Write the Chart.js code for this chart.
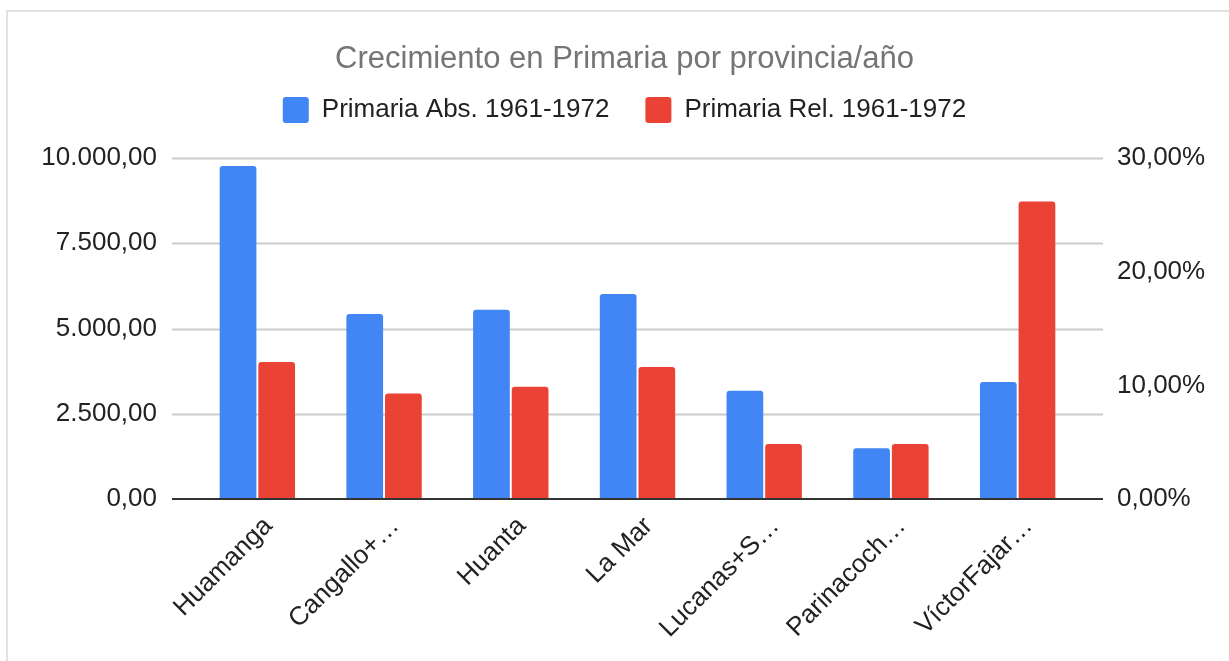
<!DOCTYPE html>
<html>
<head>
<meta charset="utf-8">
<script src="https://cdn.jsdelivr.net/npm/chart.js@4.4.1/dist/chart.umd.min.js"></script>
<style>
  html, body { margin: 0; padding: 0; background: #fff; }
  #frame {
    position: absolute; left: 6px; top: 10px; width: 1300px; height: 700px;
    border-left: 2px solid #e2e2e2; border-top: 2px solid #e2e2e2;
  }
  #wrap { position: absolute; left: 0; top: 0; width: 1229px; height: 661px; }
</style>
</head>
<body>
<div id="frame"></div>
<div id="wrap"><canvas id="chart"></canvas></div>
<script>
const provincias = ["Huamanga", "Cangallo+…", "Huanta", "La Mar", "Lucanas+S…", "Parinacoch…", "VíctorFajar…"];
const primariaAbs = [9765, 5430, 5550, 6010, 3175, 1490, 3430];
const primariaRel = [12.05, 9.29, 9.88, 11.62, 4.83, 4.83, 26.18];

const TEXT = "#222222";
const FONT = "'Liberation Sans', Arial, sans-serif";

function fmtNum(v) {
  var parts = v.toFixed(2).split(".");
  parts[0] = parts[0].replace(/\B(?=(\d{3})+(?!\d))/g, ".");
  return parts[0] + "," + parts[1];
}

function fmtPct(v) {
  return v.toFixed(2).replace(".", ",") + "%";
}

// gridlines in the google charts style, a bit wider than the bars area
const gridLines = {
  id: "gridLines",
  beforeDatasetsDraw(chart) {
    const ctx = chart.ctx;
    const y = chart.scales.y;
    const area = chart.chartArea;
    ctx.save();
    y.ticks.forEach(function(t) {
      if (t.value === 0) return;
      const py = Math.round(y.getPixelForValue(t.value)) + 0.5;
      ctx.strokeStyle = "#cccccc";
      ctx.lineWidth = 2;
      ctx.beginPath();
      ctx.moveTo(area.left - 22, py);
      ctx.lineTo(area.right + 22, py);
      ctx.stroke();
    });
    ctx.restore();
  },
  afterDatasetsDraw(chart) {
    const ctx = chart.ctx;
    const y = chart.scales.y;
    const area = chart.chartArea;
    const py = y.getPixelForValue(0);
    ctx.save();
    ctx.strokeStyle = "#333333";
    ctx.lineWidth = 2;
    ctx.beginPath();
    ctx.moveTo(area.left - 22, py);
    ctx.lineTo(area.right + 22, py);
    ctx.stroke();
    ctx.restore();
  }
};

// leave more room under the legend
const legendSpace = {
  id: "legendSpace",
  beforeInit(chart) {
    const fit = chart.legend.fit;
    chart.legend.fit = function() {
      fit.bind(chart.legend)();
      this.height = 97;
    };
  }
};

const el = document.getElementById("chart");
let myChart = new Chart(el, {
  type: "bar",
  data: {
    labels: provincias,
    datasets: [
      {
        label: "Primaria Abs. 1961-1972",
        data: primariaAbs,
        backgroundColor: "#4285F4",
        yAxisID: "y",
        categoryPercentage: 0.61,
        barPercentage: 0.95,
        borderRadius: {topLeft: 3, topRight: 3, bottomLeft: 0, bottomRight: 0},
        borderSkipped: false
      },
      {
        label: "Primaria Rel. 1961-1972",
        data: primariaRel,
        backgroundColor: "#EA4335",
        yAxisID: "y1",
        categoryPercentage: 0.61,
        barPercentage: 0.95,
        borderRadius: {topLeft: 3, topRight: 3, bottomLeft: 0, bottomRight: 0},
        borderSkipped: false
      }
    ]
  },
  options: {
    responsive: true,
    maintainAspectRatio: false,
    animation: false,
    layout: { padding: { left: 20, right: 0, top: 0, bottom: 0 } },
    plugins: {
      title: {
        display: true,
        text: "Crecimiento en Primaria por provincia/año",
        color: "#757575",
        font: { family: FONT, size: 31, weight: "normal", lineHeight: 0.1 },
        padding: { top: 58, bottom: 0 }
      },
      legend: {
        position: "top",
        labels: {
          color: TEXT,
          font: { family: FONT, size: 26 },
          boxWidth: 26,
          boxHeight: 26,
          padding: 36,
          useBorderRadius: true,
          borderRadius: 3
        }
      },
      tooltip: { enabled: false }
    },
    scales: {
      x: {
        grid: { display: false, drawTicks: false },
        border: { display: false },
        ticks: {
          color: TEXT,
          font: { family: FONT, size: 26 },
          minRotation: 45,
          maxRotation: 45,
          autoSkip: false,
          padding: 12,
          labelOffset: 11
        },
        afterFit: function(s) { s.height = 162; }
      },
      y: {
        position: "left",
        min: 0,
        max: 10000,
        grid: { display: false, drawTicks: false },
        border: { display: false },
        ticks: {
          stepSize: 2500,
          color: TEXT,
          font: { family: FONT, size: 26 },
          padding: 37,
          callback: function(v) { return fmtNum(v); }
        },
        afterFit: function(s) { s.width = 174; }
      },
      y1: {
        position: "right",
        min: 0,
        max: 30,
        grid: { display: false, drawTicks: false },
        border: { display: false },
        ticks: {
          stepSize: 10,
          color: TEXT,
          font: { family: FONT, size: 26 },
          padding: 36,
          callback: function(v) { return fmtPct(v); }
        },
        afterFit: function(s) { s.width = 148; }
      }
    }
  },
  plugins: [gridLines, legendSpace]
});
</script>
</body>
</html>
